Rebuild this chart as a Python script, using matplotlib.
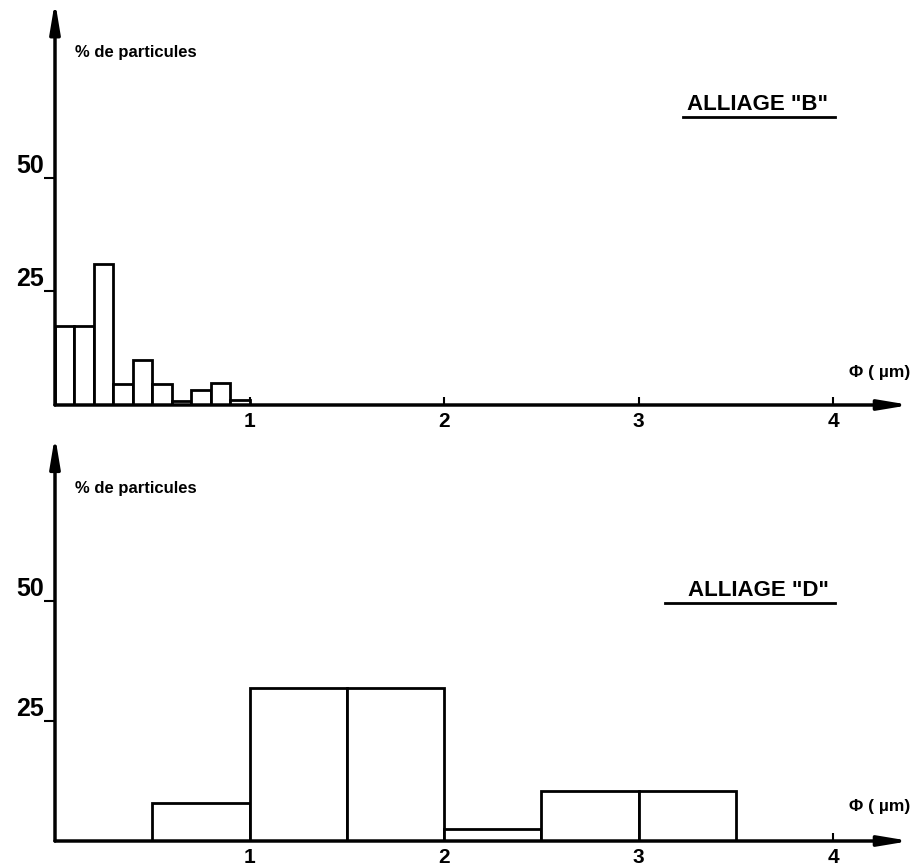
import numpy as np
import matplotlib
matplotlib.use("Agg")
import matplotlib.pyplot as plt

plt.rcParams['font.family'] = ['Liberation Sans', 'DejaVu Sans']
plt.rcParams['font.weight'] = 'bold'

# alliage B : classes de 0.1 um entre 0 et 1 um
b_bords = np.arange(0.0, 1.0, 0.1)
b_pct = [17.3, 17.3, 31.0, 4.6, 9.8, 4.6, 0.9, 3.4, 4.9, 1.2]

# alliage D : classes de 0.5 um entre 0.5 et 3.5 um
d_bords = [0.5, 1.0, 1.5, 2.0, 2.5, 3.0]
d_pct = [7.9, 31.9, 31.9, 2.5, 10.4, 10.4]

yticks = [25, 50]
xticks = [1, 2, 3, 4]

W, H = 920, 866
fig = plt.figure(figsize=(W / 100, H / 100), dpi=100)


def panneau(y_base, y_haut, px_par_pct, bords, pct, largeur, titre, y_titre, y_phi, y_label):
    xmax = (910 - 55) / 194.5
    ymax = (y_base - y_haut) / px_par_pct
    ax = fig.add_axes([55 / W, 1 - y_base / H, 855 / W, (y_base - y_haut) / H])
    ax.set_xlim(0, xmax)
    ax.set_ylim(0, ymax)
    for s in ax.spines.values():
        s.set_visible(False)

    ax.bar(bords, pct, width=largeur, align='edge', facecolor='white',
           edgecolor='black', linewidth=2, zorder=2)

    # axes avec fleches
    fleche = dict(arrowstyle='-|>,head_length=1.8,head_width=0.3', lw=2.5,
                  color='black', shrinkA=0, shrinkB=0)
    ax.annotate('', xy=(xmax, 0), xytext=(0, 0), arrowprops=fleche,
                annotation_clip=False, zorder=3)
    ax.annotate('', xy=(0, ymax + 1.5), xytext=(0, 0), arrowprops=fleche,
                annotation_clip=False, zorder=3)

    ax.set_xticks(xticks)
    ax.set_xticklabels([str(t) for t in xticks], fontsize=15, fontweight='bold')
    ax.tick_params(axis='x', direction='in', length=6, width=1.5, pad=5)
    ax.set_yticks(yticks)
    ax.set_yticklabels([str(t) for t in yticks], fontsize=18, fontweight='bold')
    ax.tick_params(axis='y', direction='out', length=8, width=1.5, pad=0)
    for lab in ax.get_yticklabels():
        lab.set_va('bottom')

    fig.text(75 / W, 1 - y_label / H, '% de particules', fontsize=12,
             fontweight='bold', va='center', ha='left')
    fig.text(758 / W, 1 - y_titre / H, titre, fontsize=16,
             fontweight='bold', va='center', ha='center')
    fig.add_artist(plt.Line2D([665 / W if 'D' in titre else 683 / W, 835 / W],
                              [1 - (y_titre + 12) / H] * 2, color='black', lw=2))
    fig.text(880 / W, 1 - y_phi / H, 'Φ ( µm)', fontsize=12.5,
             fontweight='bold', va='center', ha='center')
    return ax


panneau(405, 8, 4.55, b_bords, b_pct, 0.1, 'ALLIAGE "B"', 105, 373, 52)
panneau(841, 443, 4.8, d_bords, d_pct, 0.5, 'ALLIAGE "D"', 591, 807, 488)

fig.savefig('out.png', dpi=100)
